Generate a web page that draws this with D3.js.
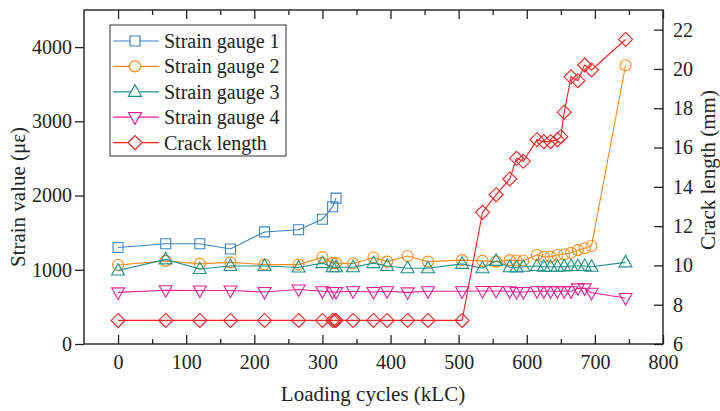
<!DOCTYPE html>
<html><head><meta charset="utf-8">
<script src="https://cdn.jsdelivr.net/npm/d3@7"></script>
<style>
html,body{margin:0;padding:0;background:#fff;}
text{font-family:"Liberation Serif","Times New Roman",serif;fill:#222;}
</style></head>
<body><svg id="c" width="720" height="411"></svg>
<script>
// ---- data ----
const xEarly = [0, 70, 120, 165, 215, 265, 300, 315, 320];
const xMid = [345, 375, 395, 425, 455];
const xLate = [505, 535, 555, 575, 585, 595, 615, 625, 635, 645, 655, 665, 675, 685, 695, 745];

const gauge1 = [1300, 1350, 1350, 1280, 1510, 1540, 1680, 1850, 1965];
const gauge2 = [1065, 1120, 1080, 1100, 1070, 1070, 1170, 1090, 1090,
  1085, 1165, 1110, 1185, 1110,
  1130, 1120, 1110, 1130, 1125, 1125, 1200, 1175, 1175, 1200, 1210, 1230, 1265, 1290, 1320, 3755];
const gauge3 = [990, 1140, 1010, 1050, 1050, 1030, 1090, 1035, 1035,
  1035, 1090, 1050, 1020, 1020,
  1080, 1020, 1120, 1035, 1030, 1040, 1050, 1040, 1040, 1040, 1045, 1050, 1050, 1050, 1040, 1100];
const gauge4 = [695, 725, 720, 720, 700, 735, 710, 700, 700,
  710, 700, 710, 695, 710,
  710, 715, 715, 710, 700, 700, 710, 710, 710, 710, 710, 710, 750, 750, 690, 620];
const crackX = [0, 70, 120, 165, 215, 265, 300, 315, 318, 320, 345, 375, 395, 425, 455,
  505, 535, 555, 575, 585, 595, 615, 625, 635, 645, 650, 655, 665, 675, 685, 695, 745];
const crack = [7.2, 7.2, 7.2, 7.2, 7.2, 7.2, 7.2, 7.2, 7.2, 7.2, 7.2, 7.2, 7.2, 7.2, 7.2,
  7.2, 12.7, 13.6, 14.4, 15.45, 15.3, 16.4, 16.3, 16.3, 16.4, 16.55, 17.8, 19.6, 19.4, 20.2, 19.95, 21.5];

const xTicks = [0, 100, 200, 300, 400, 500, 600, 700, 800];
const xMinor = [50, 150, 250, 350, 450, 550, 650, 750];
const yLTicks = [0, 1000, 2000, 3000, 4000];
const yRTicks = [6, 8, 10, 12, 14, 16, 18, 20, 22];
const legendLabels = ["Strain gauge 1", "Strain gauge 2", "Strain gauge 3", "Strain gauge 4", "Crack length"];

// ---- layout ----
const L = 84, R = 663, T = 10, B = 344;
const svg = d3.select("#c");
const x = d3.scaleLinear().domain([-50, 800]).range([L, R]);
const yL = d3.scaleLinear().domain([0, 4500]).range([B, T]);
const yR = d3.scaleLinear().domain([6, 23]).range([B, T]);

const colors = ["#3a84c4", "#ff8a1c", "#1e8f88", "#ef1f8f", "#ff2222"];
const shapes = {
  square: "M-5,-5H5V5H-5Z",
  circle: d3.symbol(d3.symbolCircle, 95)(),
  up: "M0,-7L6.5,4.5L-6.5,4.5Z",
  down: "M0,7L6.5,-4.5L-6.5,-4.5Z",
  diamond: "M0,-7L7,0L0,7L-7,0Z"
};
const shapeKeys = ["square", "circle", "up", "down", "diamond"];

const xAll = xEarly.concat(xMid, xLate);
const series = [
  {xs: xEarly, ys: gauge1, y: yL},
  {xs: xAll, ys: gauge2, y: yL},
  {xs: xAll, ys: gauge3, y: yL},
  {xs: xAll, ys: gauge4, y: yL},
  {xs: crackX, ys: crack, y: yR}
];

series.forEach((s, i) => {
  const pts = s.xs.map((d, j) => [x(d), s.y(s.ys[j])]);
  svg.append("path").attr("d", d3.line()(pts))
    .attr("fill", "none").attr("stroke", colors[i]).attr("stroke-width", 1.1);
  svg.append("g").selectAll("path").data(pts).join("path")
    .attr("d", shapes[shapeKeys[i]])
    .attr("transform", d => `translate(${d[0]},${d[1]})`)
    .attr("fill", "none").attr("stroke", colors[i]).attr("stroke-width", 1.1);
});

// ---- axes ----
function styleAxis(g) {
  g.select(".domain").remove();
  g.selectAll("line").attr("stroke", "#222").attr("stroke-width", 1.3);
  g.selectAll("text").attr("font-size", 20).attr("fill", "#222");
}
const fmt = d3.format("d");
svg.append("g").attr("transform", `translate(0,${B})`)
  .call(d3.axisBottom(x).tickValues(xTicks).tickSize(-9).tickPadding(11).tickFormat(fmt)).call(styleAxis);
svg.append("g").attr("transform", `translate(0,${B})`)
  .call(d3.axisBottom(x).tickValues(xMinor).tickSize(-5).tickFormat("")).call(styleAxis);
svg.append("g").attr("transform", `translate(0,${T})`)
  .call(d3.axisTop(x).tickValues(xTicks).tickSize(-9).tickFormat("")).call(styleAxis);
svg.append("g").attr("transform", `translate(0,${T})`)
  .call(d3.axisTop(x).tickValues(xMinor).tickSize(-5).tickFormat("")).call(styleAxis);
svg.append("g").attr("transform", `translate(${L},0)`)
  .call(d3.axisLeft(yL).tickValues(yLTicks).tickSize(9).tickPadding(3).tickFormat(fmt)).call(styleAxis);
svg.append("g").attr("transform", `translate(${R},0)`)
  .call(d3.axisRight(yR).tickValues(yRTicks).tickSize(-9).tickPadding(10).tickFormat(fmt)).call(styleAxis);

svg.append("rect").attr("x", L).attr("y", T).attr("width", R - L).attr("height", B - T)
  .attr("fill", "none").attr("stroke", "#222").attr("stroke-width", 1.4);

// titles
svg.append("text").attr("x", 373).attr("y", 401).attr("text-anchor", "middle")
  .attr("font-size", 21).text("Loading cycles (kLC)");
svg.append("text").attr("transform", `translate(25,197) rotate(-90)`)
  .attr("text-anchor", "middle").attr("font-size", 21).text("Strain value (με)");
svg.append("text").attr("transform", `translate(715,170) rotate(-90)`)
  .attr("text-anchor", "middle").attr("font-size", 21).text("Crack length (mm)");

// legend
const lg = svg.append("g");
lg.append("rect").attr("x", 110).attr("y", 25).attr("width", 176).attr("height", 131)
  .attr("fill", "#fff").attr("stroke", "#333").attr("stroke-width", 1);
legendLabels.forEach((lab, i) => {
  const yy = 41 + i * 25.4;
  lg.append("line").attr("x1", 113).attr("x2", 159).attr("y1", yy).attr("y2", yy)
    .attr("stroke", colors[i]).attr("stroke-width", 1.2);
  lg.append("path").attr("d", shapes[shapeKeys[i]]).attr("transform", `translate(135,${yy})`)
    .attr("fill", "#fff").attr("stroke", colors[i]).attr("stroke-width", 1.2);
  lg.append("text").attr("x", 164).attr("y", yy + 7).attr("font-size", 20).text(lab);
});
</script></body></html>
